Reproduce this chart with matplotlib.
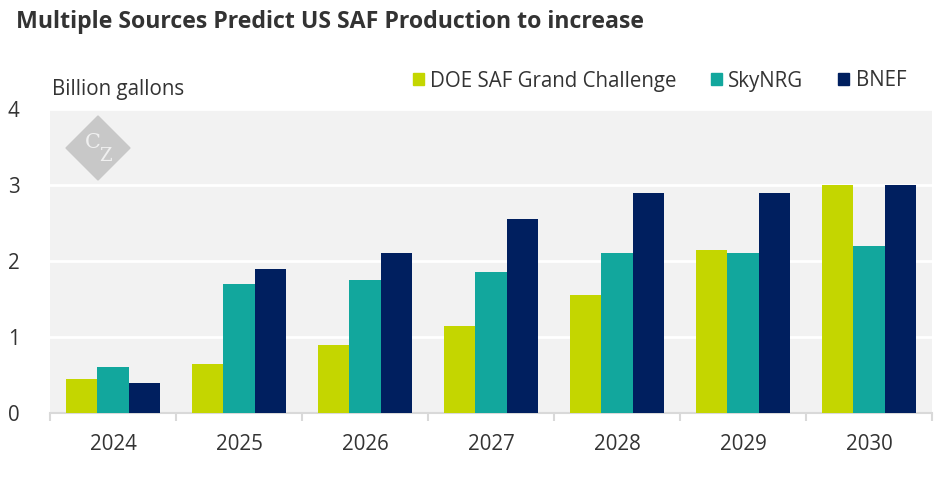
import matplotlib
matplotlib.use("Agg")
import matplotlib.pyplot as plt
import numpy as np
from matplotlib.patches import Polygon, Patch

plt.rcParams['font.family'] = ['Open Sans', 'DejaVu Sans']

years = ["2024", "2025", "2026", "2027", "2028", "2029", "2030"]
doe = [0.45, 0.65, 0.9, 1.15, 1.55, 2.15, 3.0]
skynrg = [0.6, 1.7, 1.75, 1.85, 2.1, 2.1, 2.2]
bnef = [0.4, 1.9, 2.1, 2.55, 2.9, 2.9, 3.0]
series_names = ["DOE SAF Grand Challenge", "SkyNRG", "BNEF"]
colors = ["#c4d600", "#12a79d", "#001f5f"]

fig = plt.figure(figsize=(9.42, 4.8), dpi=100)
ax = fig.add_axes([50/942, 67/480, 882/942, 304/480])
ax.set_facecolor("#f2f2f2")

x = np.arange(len(years))
w = 0.25
for i, vals in enumerate([doe, skynrg, bnef]):
    ax.bar(x + (i - 1) * w, vals, w, color=colors[i], zorder=3)

ax.set_xlim(-0.5, len(years) - 0.5)
ax.set_ylim(0, 4)
ax.set_yticks([0, 1, 2, 3, 4])
ax.grid(axis="y", color="white", linewidth=2, zorder=1)
ax.set_axisbelow(True)
for s in ["top", "right", "left"]:
    ax.spines[s].set_visible(False)
ax.spines["bottom"].set_color("#d9d9d9")
ax.spines["bottom"].set_linewidth(1.5)

ax.set_xticks(x)
ax.set_xticklabels(years)
ax.set_xticks(np.arange(-0.5, len(years)), minor=True)
ax.tick_params(axis="x", which="major", length=0, pad=15, labelsize=14.8, labelcolor="#333333")
ax.tick_params(axis="x", which="minor", length=6, width=1.5, color="#d9d9d9")
ax.tick_params(axis="y", length=0, pad=22, labelsize=14.8, labelcolor="#333333")

# watermark logo
cx, cy, r = 98, 148, 32
diamond = Polygon([(cx/942, (480-cy+r)/480), ((cx+r)/942, (480-cy)/480),
                   (cx/942, (480-cy-r)/480), ((cx-r)/942, (480-cy)/480)],
                  closed=True, transform=fig.transFigure, color="#c8c8c8", zorder=5)
fig.patches.append(diamond)
fig.text((cx-5)/942, (480-cy+6)/480, "C", fontsize=15, family="DejaVu Serif", color="#f0f0f0",
         ha="center", va="center", zorder=6)
fig.text((cx+7)/942, (480-cy-8)/480, "Z", fontsize=13, family="DejaVu Serif", color="#f0f0f0",
         ha="center", va="center", zorder=6)

fig.text(16/942, 1 - 22/480, "Multiple Sources Predict US SAF Production to increase",
         fontsize=16.7, fontweight="bold", color="#333333", va="center", ha="left")
fig.text(52/942, 1 - 89/480, "Billion gallons", fontsize=14.8, color="#333333", va="center", ha="left")

handles = [Patch(color=c, label=n) for c, n in zip(colors, series_names)]
fig.legend(handles=handles, loc="center right", bbox_to_anchor=(906/942, 1 - 81/480), ncol=3,
           frameon=False, fontsize=14.8, handlelength=0.53, handleheight=0.5, handletextpad=0.3,
           columnspacing=1.7, labelcolor="#333333", borderaxespad=0, borderpad=0)

fig.savefig("out.png", dpi=100)
